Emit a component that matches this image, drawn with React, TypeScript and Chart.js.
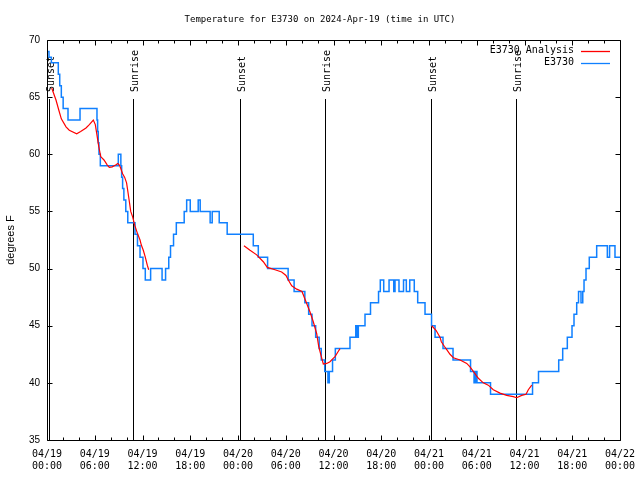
import React, { useEffect, useRef } from 'react';
import { Chart, registerables } from 'chart.js';

Chart.register(...registerables);

const TITLE = 'Temperature for E3730 on 2024-Apr-19 (time in UTC)';
const Y_LABEL = 'degrees F';
const MONO = '"DejaVu Sans Mono", "Liberation Mono", monospace';
const SANS = '"Liberation Sans", Arial, sans-serif';

const xTickDates = ['04/19', '04/19', '04/19', '04/19', '04/20', '04/20', '04/20', '04/20', '04/21', '04/21', '04/21', '04/21', '04/22'];
const xTickTimes = ['00:00', '06:00', '12:00', '18:00', '00:00', '06:00', '12:00', '18:00', '00:00', '06:00', '12:00', '18:00', '00:00'];

const legendLabels = ['E3730 Analysis', 'E3730'];
const seriesColors = ['#ff0000', '#1080ff'];

// hours since 04/19 00:00 UTC at which the observed value changes, and the new value
const blueTimes = [
  0.0, 0.25, 0.55, 1.42, 1.6, 1.8, 2.03, 2.64, 4.15, 6.28, 6.36, 6.44, 6.53, 6.7,
  8.96, 9.28, 9.38, 9.5, 9.66, 9.9, 10.15, 11.06, 11.37, 11.69, 12.06, 12.35, 13.02,
  14.46, 14.9, 15.3, 15.52, 15.9, 16.25, 17.24, 17.55, 18.0, 19.0, 19.25, 20.5, 20.76,
  21.64, 22.64, 25.92, 26.55, 27.72, 30.3, 31.05, 32.4, 32.88, 33.3, 33.76, 34.2, 34.46,
  34.9, 35.3, 35.47, 35.88, 36.23, 38.07, 38.8, 38.95, 39.12, 39.96, 40.65, 41.66, 41.88,
  42.31, 42.98, 43.57, 43.73, 44.23, 44.8, 45.15, 45.58, 46.15, 46.58, 47.5, 48.32, 48.76,
  49.76, 51.02, 53.22, 53.66, 53.84, 54.03, 55.73, 61.01, 61.76, 64.3, 64.8, 65.38, 65.97,
  66.22, 66.56, 66.79, 67.1, 67.32, 67.48, 67.73, 68.14, 69.07, 70.41, 70.69, 71.37, 72.0,
];
const blueTemps = [
  69, 68.5, 68, 67, 66, 65, 64, 63, 64, 63, 62, 61, 60, 59,
  60, 59, 58, 57, 56, 55, 54, 53, 52, 51, 50, 49, 50,
  49, 50, 51, 52, 53, 54, 55, 56, 55, 56, 55, 54, 55,
  54, 53, 52, 51, 50, 49, 48, 47, 46, 45, 44, 43, 42,
  41, 40, 41, 42, 43, 44, 45, 44, 45, 46, 47, 48, 49,
  48, 49, 48, 49, 48, 49, 48, 49, 48, 47, 46, 45, 44,
  43, 42, 41, 40, 41, 40, 39, 40, 41, 42, 43, 44, 45,
  46, 47, 48, 47, 48, 49, 50, 51, 52, 51, 52, 51, 51,
];

const redTimes = [
  0.59, 1.13, 1.47, 1.8, 2.39, 2.8, 3.73, 4.23, 4.9, 5.32, 5.82, 6.07, 6.25, 6.5, 6.75,
  7.16, 7.58, 7.83, 8.2, 8.62, 8.9, 9.09, 9.25, 9.5, 9.75, 10.0, 10.17, 10.35, 10.52,
  10.77, 11.02, 11.35, 11.69, 11.85, 12.1, 12.35, 12.6, 12.78,
  18.0,
  24.75, 25.51, 26.35, 27.18, 27.68, 28.65, 29.49, 30.03, 30.32, 30.75, 31.38, 32.04,
  32.46, 33.05, 33.46, 33.89, 34.14, 34.47, 34.72, 35.15, 35.56, 35.9, 36.19, 36.55, 36.82,
  42.0,
  48.34, 48.88, 49.38, 49.55, 49.92, 50.23, 50.64, 51.06, 51.9, 52.74, 53.15, 53.57, 54.2,
  54.82, 55.45, 56.08, 56.92, 57.76, 58.59, 59.02, 59.65, 60.19, 60.48, 60.91,
];
const redTemps = [
  65.8, 64.75, 63.9, 63.1, 62.4, 62.1, 61.8, 62.0, 62.3, 62.6, 63.0, 62.6, 61.8, 60.7, 59.8,
  59.5, 59.06, 58.86, 58.9, 59.06, 59.2, 59.06, 58.8, 58.3, 58.0, 57.5, 56.7, 55.85, 55.0,
  54.5, 53.8, 53.1, 52.5, 52.06, 51.6, 51.0, 50.3, 49.9,
  null,
  52.0, 51.6, 51.2, 50.6, 50.1, 49.9, 49.7, 49.4, 49.0, 48.5, 48.2, 48.0,
  47.25, 46.2, 45.35, 44.3, 43.2, 42.3, 41.65, 41.7, 41.85, 42.1, 42.3, 42.7, 43.0,
  null,
  45.0, 44.6, 44.0, 43.6, 43.2, 42.9, 42.5, 42.2, 42.0, 41.7, 41.4, 41.0, 40.4,
  40.0, 39.8, 39.4, 39.1, 38.9, 38.8, 38.7, 38.9, 39.0, 39.4, 39.8,
];

const sunTimes = [0.29, 10.85, 24.25, 34.97, 48.3, 58.97];
const sunLabels = ['Sunset', 'Sunrise', 'Sunset', 'Sunrise', 'Sunset', 'Sunrise'];

const overlay = {
  id: 'overlay',
  beforeDatasetsDraw(chart: any) {
    const { ctx, chartArea: a, scales } = chart;
    const x = scales.x;
    ctx.save();
    ctx.strokeStyle = '#000';
    ctx.fillStyle = '#000';
    ctx.lineWidth = 1;
    const topY = Math.round(a.bottom - 0.8525 * (a.bottom - a.top));
    sunTimes.forEach((t, i) => {
      const px = Math.round(x.getPixelForValue(t)) + 0.5;
      ctx.beginPath();
      ctx.moveTo(px, a.bottom);
      ctx.lineTo(px, topY);
      ctx.stroke();
      ctx.save();
      ctx.translate(px + 1.5, topY - 7);
      ctx.rotate(-Math.PI / 2);
      ctx.font = '10px ' + MONO;
      ctx.textAlign = 'left';
      ctx.textBaseline = 'middle';
      ctx.fillText(sunLabels[i], 0, 0);
      ctx.restore();
    });
    ctx.restore();
  },
  afterDraw(chart: any) {
    const { ctx, chartArea: a, scales } = chart;
    const x = scales.x;
    const y = scales.y;
    ctx.save();
    ctx.strokeStyle = '#000';
    ctx.lineWidth = 1;
    const L = Math.round(a.left) + 0.5;
    const R = Math.round(a.right) + 0.5;
    const T = Math.round(a.top) + 0.5;
    const B = Math.round(a.bottom) + 0.5;
    ctx.beginPath();
    ctx.rect(L, T, R - L, B - T);
    ctx.stroke();
    ctx.beginPath();
    for (let t = x.min; t <= x.max; t += 2) {
      const px = Math.round(x.getPixelForValue(t)) + 0.5;
      const len = t % 6 === 0 ? 5 : 3;
      ctx.moveTo(px, B);
      ctx.lineTo(px, B - len);
      ctx.moveTo(px, T);
      ctx.lineTo(px, T + len);
    }
    for (let v = y.min; v <= y.max; v += 5) {
      const py = Math.round(y.getPixelForValue(v)) + 0.5;
      ctx.moveTo(L, py);
      ctx.lineTo(L + 5, py);
      ctx.moveTo(R, py);
      ctx.lineTo(R - 5, py);
    }
    ctx.stroke();

    // legend
    ctx.font = '10px ' + MONO;
    ctx.textAlign = 'right';
    ctx.textBaseline = 'middle';
    ctx.fillStyle = '#000';
    legendLabels.forEach((lab, i) => {
      const ly = a.top + 10.5 + i * 12;
      ctx.fillText(lab, a.right - 46, ly);
      ctx.strokeStyle = seriesColors[i];
      ctx.lineWidth = 1.3;
      ctx.beginPath();
      ctx.moveTo(a.right - 39, Math.round(ly) + 0.5);
      ctx.lineTo(a.right - 10, Math.round(ly) + 0.5);
      ctx.stroke();
    });
    ctx.restore();
  },
};

export default function App() {
  const canvasRef = useRef<HTMLCanvasElement | null>(null);

  useEffect(() => {
    const canvas = canvasRef.current;
    if (!canvas) return;
    const chart = new Chart(canvas, {
      type: 'line',
      data: {
        datasets: [
          {
            label: legendLabels[0],
            data: redTimes.map((t, i) => ({ x: t, y: redTemps[i] })),
            borderColor: seriesColors[0],
            borderWidth: 1.2,
            pointRadius: 0,
            spanGaps: false,
            tension: 0,
          },
          {
            label: legendLabels[1],
            data: blueTimes.map((t, i) => ({ x: t, y: blueTemps[i] })),
            borderColor: seriesColors[1],
            borderWidth: 1.5,
            pointRadius: 0,
            stepped: 'before',
          },
        ],
      } as any,
      options: {
        responsive: false,
        animation: false,
        layout: { padding: 0 },
        plugins: {
          legend: { display: false },
          tooltip: { enabled: false },
          title: {
            display: true,
            text: TITLE,
            color: '#000',
            font: { family: MONO, size: 9, weight: 'normal' },
            padding: { top: 14, bottom: 15.2 },
          },
        },
        scales: {
          x: {
            type: 'linear',
            min: 0,
            max: 72,
            grid: { display: false, drawTicks: false },
            border: { display: false },
            afterFit: (s: any) => {
              s.height = 40;
              s.paddingLeft = 0;
              s.paddingRight = 0;
            },
            ticks: {
              stepSize: 6,
              autoSkip: false,
              maxRotation: 0,
              padding: 8,
              color: '#000',
              font: { family: MONO, size: 10, lineHeight: 1.2 },
              callback: (v: any) => {
                const i = Math.round(Number(v) / 6);
                return [xTickDates[i], xTickTimes[i]];
              },
            },
          },
          y: {
            min: 35,
            max: 70,
            grid: { display: false, drawTicks: false },
            border: { display: false },
            afterFit: (s: any) => { s.width = 47; },
            title: {
              display: true,
              text: Y_LABEL,
              color: '#000',
              font: { family: SANS, size: 11 },
              padding: { top: 4, bottom: 0 },
            },
            ticks: {
              stepSize: 5,
              padding: 7,
              color: '#000',
              font: { family: SANS, size: 10 },
            },
          },
          yRight: {
            position: 'right',
            display: true,
            min: 35,
            max: 70,
            grid: { display: false, drawTicks: false },
            border: { display: false },
            ticks: { display: false },
            afterFit: (s: any) => { s.width = 20; },
          },
        },
      } as any,
      plugins: [overlay],
    });
    return () => chart.destroy();
  }, []);

  return (
    <div style={{ position: 'absolute', left: 0, top: 0, width: 640, height: 480, background: '#fff' }}>
      <canvas ref={canvasRef} width={640} height={480} style={{ display: 'block' }} />
    </div>
  );
}
